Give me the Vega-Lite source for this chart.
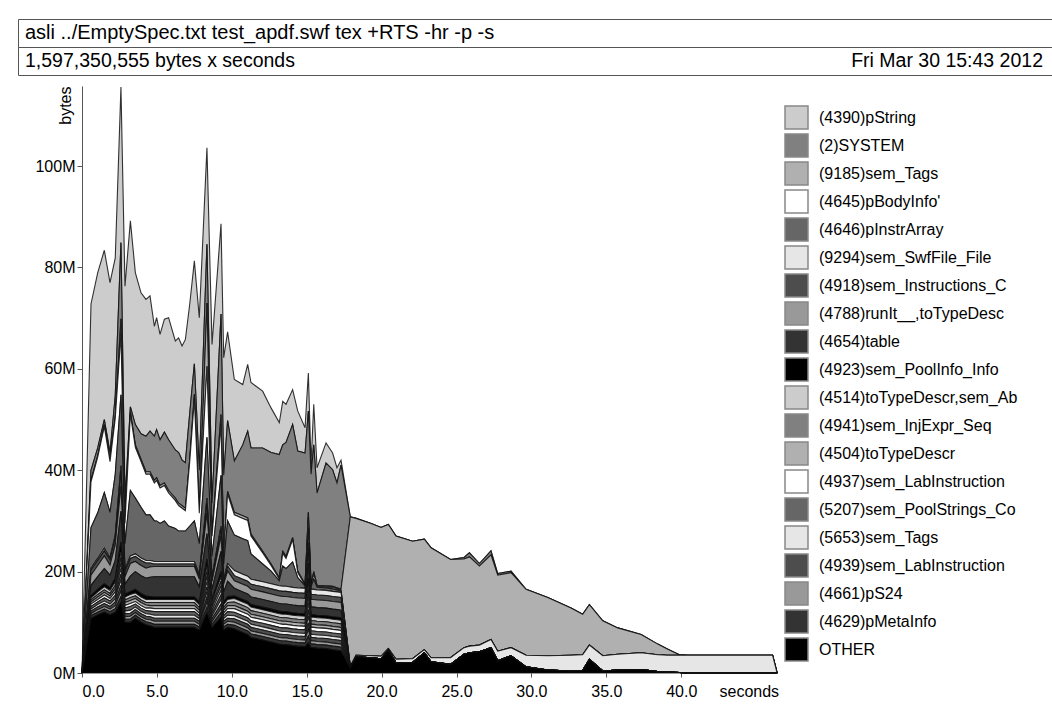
{
  "$schema": "https://vega.github.io/schema/vega-lite/v6.json",
  "padding": {"left": 17, "top": 18, "right": 0, "bottom": 0},
  "background": "white",
  "spacing": 0,
  "bounds": "flush",
  "config": {
    "font": "Liberation Sans",
    "view": {"stroke": "#555", "strokeWidth": 1},
    "axis": {"grid": false, "labelColor": "#000", "titleColor": "#000", "titleFontWeight": "normal", "domainColor": "#555", "tickColor": "#555", "labelFontSize": 16, "titleFontSize": 16},
    "legend": {"labelColor": "#000", "labelFontSize": 16}
  },
  "datasets": {
    "names": [
      {"key": "a", "name": "(4390)pString"},
      {"key": "b", "name": "(2)SYSTEM"},
      {"key": "c", "name": "(9185)sem_Tags"},
      {"key": "d", "name": "(4645)pBodyInfo'"},
      {"key": "e", "name": "(4646)pInstrArray"},
      {"key": "f", "name": "(9294)sem_SwfFile_File"},
      {"key": "g", "name": "(4918)sem_Instructions_C"},
      {"key": "h", "name": "(4788)runIt__,toTypeDesc"},
      {"key": "i", "name": "(4654)table"},
      {"key": "j", "name": "(4923)sem_PoolInfo_Info"},
      {"key": "k", "name": "(4514)toTypeDescr,sem_Ab"},
      {"key": "l", "name": "(4941)sem_InjExpr_Seq"},
      {"key": "m", "name": "(4504)toTypeDescr"},
      {"key": "n", "name": "(4937)sem_LabInstruction"},
      {"key": "o", "name": "(5207)sem_PoolStrings_Co"},
      {"key": "p", "name": "(5653)sem_Tags"},
      {"key": "q", "name": "(4939)sem_LabInstruction"},
      {"key": "r", "name": "(4661)pS24"},
      {"key": "s", "name": "(4629)pMetaInfo"},
      {"key": "t", "name": "OTHER"}
    ],
    "prof": [
      {"sec":0,"a":0,"b":0,"c":0,"d":0,"e":0,"f":0,"g":0,"h":0,"i":0,"j":0,"k":0,"l":0,"m":0,"n":0,"o":0,"p":0,"q":0,"r":0,"s":0,"t":0},
      {"sec":0.6,"a":32.8,"b":2,"c":0.3,"d":9,"e":8,"f":0.4,"g":1,"h":2,"i":2,"j":0.5,"k":0.4,"l":0.4,"m":0.4,"n":0.5,"o":0.5,"p":0.4,"q":0.5,"r":0.4,"s":0.5,"t":10.8},
      {"sec":1.05,"a":34.6,"b":1.5,"c":0.3,"d":11,"e":9,"f":0.4,"g":1,"h":2.2,"i":2.5,"j":0.5,"k":0.5,"l":0.5,"m":0.5,"n":0.5,"o":0.5,"p":0.5,"q":0.5,"r":0.5,"s":0.5,"t":11.5},
      {"sec":1.49,"a":33.4,"b":1,"c":0.4,"d":13,"e":11,"f":0.5,"g":1,"h":2.5,"i":3,"j":0.6,"k":0.6,"l":0.5,"m":0.5,"n":0.6,"o":0.6,"p":0.5,"q":0.6,"r":0.5,"s":0.6,"t":12},
      {"sec":1.87,"a":33.5,"b":1.5,"c":0.3,"d":10,"e":9,"f":0.4,"g":1,"h":2,"i":2.5,"j":0.5,"k":0.6,"l":0.5,"m":0.5,"n":0.5,"o":0.6,"p":0.5,"q":0.5,"r":0.5,"s":0.6,"t":11.5},
      {"sec":2.22,"a":27.2,"b":4,"c":0.5,"d":11,"e":12,"f":0.5,"g":1.5,"h":3,"i":3.5,"j":0.7,"k":0.7,"l":0.7,"m":0.6,"n":0.7,"o":0.7,"p":0.6,"q":0.7,"r":0.6,"s":0.7,"t":12},
      {"sec":2.6,"a":30.7,"b":15,"c":3,"d":12,"e":14,"f":1,"g":3,"h":5,"i":6,"j":2,"k":1.1,"l":1.1,"m":1.1,"n":1.1,"o":1.1,"p":1.1,"q":1.1,"r":1.1,"s":1.1,"t":14},
      {"sec":2.87,"a":42.3,"b":4,"c":0.5,"d":4,"e":5,"f":0.5,"g":1,"h":1.5,"i":2,"j":0.5,"k":0.6,"l":0.5,"m":0.6,"n":0.5,"o":0.6,"p":0.5,"q":0.6,"r":0.5,"s":0.6,"t":10},
      {"sec":3.23,"a":36.7,"b":1,"c":0.5,"d":15,"e":12.9,"f":0.5,"g":1,"h":2.5,"i":3,"j":0.6,"k":0.6,"l":0.6,"m":0.6,"n":0.6,"o":0.7,"p":0.6,"q":0.6,"r":0.6,"s":0.6,"t":10},
      {"sec":3.56,"a":30,"b":4,"c":0.5,"d":10,"e":11,"f":0.5,"g":1,"h":2,"i":3.5,"j":0.7,"k":0.6,"l":0.5,"m":0.6,"n":0.5,"o":0.6,"p":0.5,"q":0.6,"r":0.5,"s":0.6,"t":10.8},
      {"sec":3.94,"a":27.8,"b":5,"c":0.5,"d":9,"e":10,"f":0.5,"g":1,"h":2,"i":3.5,"j":0.7,"k":0.6,"l":0.5,"m":0.6,"n":0.5,"o":0.6,"p":0.5,"q":0.6,"r":0.5,"s":0.6,"t":10},
      {"sec":4.27,"a":27,"b":7,"c":0.5,"d":8,"e":9,"f":0.5,"g":1,"h":2,"i":3.5,"j":0.7,"k":0.6,"l":0.5,"m":0.6,"n":0.5,"o":0.6,"p":0.5,"q":0.6,"r":0.5,"s":0.6,"t":9.5},
      {"sec":4.54,"a":26.7,"b":8,"c":0.5,"d":8,"e":9,"f":0.5,"g":0.8,"h":2,"i":3.8,"j":0.6,"k":0.6,"l":0.6,"m":0.5,"n":0.6,"o":0.6,"p":0.5,"q":0.6,"r":0.6,"s":0.6,"t":9.3},
      {"sec":4.83,"a":21.7,"b":8.7,"c":0.5,"d":7.5,"e":8,"f":0.5,"g":0.5,"h":2,"i":4,"j":0.5,"k":0.6,"l":0.6,"m":0.6,"n":0.6,"o":0.7,"p":0.6,"q":0.6,"r":0.6,"s":0.6,"t":9},
      {"sec":4.98,"a":22.1,"b":9.5,"c":0.5,"d":8,"e":8,"f":0.5,"g":0.5,"h":2,"i":4,"j":0.5,"k":0.6,"l":0.6,"m":0.6,"n":0.6,"o":0.7,"p":0.6,"q":0.6,"r":0.6,"s":0.6,"t":9},
      {"sec":5.21,"a":20.8,"b":9,"c":0.5,"d":7,"e":7.5,"f":0.5,"g":0.5,"h":2,"i":4,"j":0.5,"k":0.6,"l":0.6,"m":0.6,"n":0.6,"o":0.7,"p":0.6,"q":0.6,"r":0.6,"s":0.6,"t":9},
      {"sec":5.5,"a":22.3,"b":10,"c":0.5,"d":7,"e":8,"f":0.5,"g":0.5,"h":2,"i":4,"j":0.5,"k":0.6,"l":0.6,"m":0.6,"n":0.6,"o":0.7,"p":0.6,"q":0.6,"r":0.6,"s":0.6,"t":9},
      {"sec":5.78,"a":24.1,"b":10,"c":0.5,"d":6.5,"e":7,"f":0.5,"g":0.5,"h":2,"i":4,"j":0.5,"k":0.6,"l":0.6,"m":0.6,"n":0.6,"o":0.7,"p":0.6,"q":0.6,"r":0.6,"s":0.6,"t":9},
      {"sec":6.23,"a":21.5,"b":9.5,"c":0.5,"d":5.5,"e":6.5,"f":0.5,"g":0.5,"h":2,"i":4,"j":0.5,"k":0.6,"l":0.6,"m":0.6,"n":0.6,"o":0.7,"p":0.6,"q":0.6,"r":0.6,"s":0.6,"t":9},
      {"sec":6.45,"a":22.6,"b":10,"c":0.5,"d":5,"e":6,"f":0.5,"g":0.5,"h":2,"i":4,"j":0.5,"k":0.6,"l":0.6,"m":0.6,"n":0.6,"o":0.7,"p":0.6,"q":0.6,"r":0.6,"s":0.6,"t":9},
      {"sec":6.68,"a":22.5,"b":9,"c":0.5,"d":4.5,"e":6,"f":0.5,"g":0.5,"h":2,"i":4,"j":0.5,"k":0.6,"l":0.6,"m":0.6,"n":0.6,"o":0.7,"p":0.6,"q":0.6,"r":0.6,"s":0.6,"t":9},
      {"sec":6.9,"a":24.3,"b":9,"c":0.5,"d":4,"e":6,"f":0.5,"g":0.5,"h":2,"i":4,"j":0.5,"k":0.6,"l":0.6,"m":0.6,"n":0.6,"o":0.7,"p":0.6,"q":0.6,"r":0.6,"s":0.6,"t":9},
      {"sec":7.2,"a":21.5,"b":9,"c":0.5,"d":13,"e":7,"f":0.5,"g":0.5,"h":2,"i":4,"j":0.5,"k":0.6,"l":0.6,"m":0.6,"n":0.6,"o":0.7,"p":0.6,"q":0.6,"r":0.6,"s":0.6,"t":9},
      {"sec":7.5,"a":20.3,"b":6,"c":1,"d":24,"e":8,"f":0.5,"g":0.5,"h":2,"i":4,"j":0.5,"k":0.6,"l":0.6,"m":0.6,"n":0.6,"o":0.7,"p":0.6,"q":0.6,"r":0.6,"s":0.6,"t":9},
      {"sec":7.83,"a":30.1,"b":8,"c":0.5,"d":6,"e":6,"f":0.5,"g":0.5,"h":1.5,"i":3,"j":0.5,"k":0.6,"l":0.5,"m":0.6,"n":0.5,"o":0.6,"p":0.5,"q":0.6,"r":0.5,"s":0.6,"t":8.5},
      {"sec":8.34,"a":19,"b":11.6,"c":12.5,"d":14,"e":12,"f":1,"g":2,"h":4,"i":5,"j":1.5,"k":1,"l":1,"m":1,"n":1,"o":1,"p":1,"q":1,"r":1,"s":1,"t":12},
      {"sec":8.68,"a":31.3,"b":6,"c":0.5,"d":4,"e":4,"f":0.5,"g":0.5,"h":1.5,"i":2,"j":0.5,"k":0.6,"l":0.5,"m":0.6,"n":0.5,"o":0.6,"p":0.5,"q":0.6,"r":0.5,"s":0.6,"t":9},
      {"sec":9.28,"a":17.8,"b":19.8,"c":2,"d":10,"e":10,"f":0.5,"g":1.5,"h":3,"i":4,"j":1,"k":0.9,"l":0.9,"m":0.9,"n":0.9,"o":0.9,"p":0.9,"q":0.9,"r":0.8,"s":0.9,"t":11},
      {"sec":9.46,"a":23.2,"b":15,"c":0.5,"d":2,"e":3,"f":0.5,"g":0.5,"h":1.5,"i":2,"j":0.5,"k":0.6,"l":0.5,"m":0.6,"n":0.5,"o":0.6,"p":0.5,"q":0.6,"r":0.5,"s":0.6,"t":8.5},
      {"sec":9.72,"a":17.5,"b":14,"c":0.5,"d":5.3,"e":8.4,"f":0.5,"g":1,"h":2,"i":3,"j":0.6,"k":0.6,"l":0.6,"m":0.6,"n":0.6,"o":0.7,"p":0.6,"q":0.6,"r":0.6,"s":0.6,"t":9},
      {"sec":10.17,"a":16.1,"b":10.1,"c":0.5,"d":4,"e":7,"f":1,"g":1,"h":1.5,"i":1.5,"j":0.5,"k":0.7,"l":0.7,"m":0.6,"n":0.7,"o":0.7,"p":0.6,"q":0.7,"r":0.6,"s":0.7,"t":8.7},
      {"sec":10.73,"a":11.9,"b":14,"c":0.5,"d":4,"e":7,"f":1,"g":1,"h":1.5,"i":1.5,"j":0.5,"k":0.7,"l":0.7,"m":0.6,"n":0.7,"o":0.7,"p":0.6,"q":0.7,"r":0.6,"s":0.7,"t":8},
      {"sec":11.06,"a":13.2,"b":17.1,"c":0.5,"d":4,"e":7,"f":1,"g":1,"h":1.5,"i":1.5,"j":0.5,"k":0.7,"l":0.7,"m":0.6,"n":0.7,"o":0.7,"p":0.6,"q":0.7,"r":0.6,"s":0.7,"t":7.6},
      {"sec":11.28,"a":12.9,"b":17,"c":0.4,"d":3.5,"e":5,"f":1,"g":1,"h":1.5,"i":1.5,"j":0.5,"k":0.7,"l":0.7,"m":0.6,"n":0.7,"o":0.7,"p":0.6,"q":0.7,"r":0.6,"s":0.7,"t":7},
      {"sec":12.06,"a":11.2,"b":20.4,"c":0.3,"d":2.2,"e":3.5,"f":1,"g":1,"h":1.5,"i":1.5,"j":0.5,"k":0.7,"l":0.7,"m":0.6,"n":0.7,"o":0.7,"p":0.6,"q":0.7,"r":0.6,"s":0.7,"t":6.5},
      {"sec":12.62,"a":8.8,"b":22,"c":0.3,"d":1.1,"e":2.5,"f":1,"g":1,"h":1.5,"i":1.5,"j":0.5,"k":0.7,"l":0.7,"m":0.6,"n":0.7,"o":0.7,"p":0.6,"q":0.7,"r":0.6,"s":0.7,"t":6.1},
      {"sec":13.17,"a":6.3,"b":24.3,"c":0.3,"d":0.3,"e":1,"f":1,"g":1,"h":1.5,"i":1.5,"j":0.5,"k":0.7,"l":0.7,"m":0.6,"n":0.7,"o":0.7,"p":0.6,"q":0.7,"r":0.6,"s":0.7,"t":5.7},
      {"sec":13.4,"a":8.6,"b":21,"c":0.4,"d":2.5,"e":4,"f":1,"g":1,"h":1.5,"i":1.5,"j":0.5,"k":0.7,"l":0.7,"m":0.6,"n":0.7,"o":0.7,"p":0.6,"q":0.7,"r":0.6,"s":0.7,"t":5.6},
      {"sec":13.62,"a":7.5,"b":22.5,"c":0.4,"d":2,"e":3.5,"f":1,"g":1,"h":1.5,"i":1.5,"j":0.5,"k":0.7,"l":0.7,"m":0.6,"n":0.7,"o":0.7,"p":0.6,"q":0.7,"r":0.6,"s":0.7,"t":5.6},
      {"sec":14.06,"a":6.9,"b":22.3,"c":0.4,"d":4.4,"e":5,"f":1,"g":1,"h":1.5,"i":1.5,"j":0.5,"k":0.7,"l":0.7,"m":0.6,"n":0.7,"o":0.7,"p":0.6,"q":0.7,"r":0.6,"s":0.7,"t":5.4},
      {"sec":14.4,"a":7.9,"b":23.7,"c":0.3,"d":1,"e":2,"f":1,"g":1,"h":1.5,"i":1.5,"j":0.5,"k":0.7,"l":0.7,"m":0.6,"n":0.7,"o":0.7,"p":0.6,"q":0.7,"r":0.6,"s":0.7,"t":5.3},
      {"sec":14.89,"a":5,"b":25.9,"c":0.2,"d":0.1,"e":0.5,"f":1,"g":1,"h":1.5,"i":1.5,"j":0.5,"k":0.7,"l":0.7,"m":0.6,"n":0.7,"o":0.7,"p":0.6,"q":0.7,"r":0.6,"s":0.7,"t":5.2},
      {"sec":15.11,"a":7.5,"b":20,"c":1,"d":2,"e":3,"f":1,"g":1,"h":2,"i":3,"j":1,"k":1.3,"l":1.3,"m":1.3,"n":1.3,"o":1.3,"p":1.3,"q":1.3,"r":1.3,"s":1.3,"t":6},
      {"sec":15.29,"a":2,"b":21.8,"c":0.2,"d":0.2,"e":0.5,"f":1,"g":1,"h":1.5,"i":1.5,"j":0.5,"k":0.7,"l":0.7,"m":0.6,"n":0.7,"o":0.7,"p":0.6,"q":0.7,"r":0.6,"s":0.7,"t":5},
      {"sec":15.47,"a":8,"b":25,"c":0.5,"d":1,"e":2,"f":1,"g":1,"h":1.5,"i":1.5,"j":0.5,"k":0.7,"l":0.7,"m":0.6,"n":0.7,"o":0.7,"p":0.6,"q":0.7,"r":0.6,"s":0.7,"t":5},
      {"sec":15.69,"a":5,"b":18.2,"c":0.2,"d":0.2,"e":0.5,"f":1,"g":1,"h":1.5,"i":1.5,"j":0.5,"k":0.7,"l":0.7,"m":0.6,"n":0.7,"o":0.7,"p":0.6,"q":0.7,"r":0.6,"s":0.7,"t":4.9},
      {"sec":16.29,"a":4,"b":24.2,"c":0.2,"d":0.2,"e":0.5,"f":1,"g":1,"h":1.5,"i":1.5,"j":0.5,"k":0.7,"l":0.7,"m":0.6,"n":0.7,"o":0.7,"p":0.6,"q":0.7,"r":0.6,"s":0.7,"t":4.8},
      {"sec":16.73,"a":3.3,"b":23,"c":0.2,"d":0.3,"e":0.5,"f":1,"g":1,"h":1.5,"i":1.5,"j":0.5,"k":0.7,"l":0.7,"m":0.6,"n":0.7,"o":0.7,"p":0.6,"q":0.7,"r":0.6,"s":0.7,"t":4.6},
      {"sec":17.02,"a":3,"b":20.7,"c":0.2,"d":0.2,"e":0.4,"f":1,"g":1,"h":1.5,"i":1.5,"j":0.5,"k":0.7,"l":0.7,"m":0.6,"n":0.7,"o":0.7,"p":0.6,"q":0.7,"r":0.6,"s":0.7,"t":4.5},
      {"sec":17.29,"a":1,"b":24.5,"c":0.2,"d":0.1,"e":0.3,"f":1,"g":1,"h":1.5,"i":1.5,"j":0.5,"k":0.7,"l":0.7,"m":0.6,"n":0.7,"o":0.7,"p":0.6,"q":0.7,"r":0.6,"s":0.7,"t":4.4},
      {"sec":17.91,"a":0,"b":0,"c":29.5,"d":0,"e":0,"f":0.3,"g":0,"h":0,"i":0,"j":0,"k":0,"l":0,"m":0,"n":0,"o":0,"p":0,"q":0,"r":0,"s":0,"t":1},
      {"sec":18.3,"a":0,"b":0,"c":27,"d":0,"e":0,"f":0.3,"g":0,"h":0,"i":0,"j":0,"k":0,"l":0,"m":0,"n":0,"o":0,"p":0,"q":0,"r":0,"s":0,"t":3.2},
      {"sec":19.3,"a":0,"b":0,"c":26.1,"d":0,"e":0,"f":0.4,"g":0,"h":0,"i":0,"j":0,"k":0,"l":0,"m":0,"n":0,"o":0,"p":0,"q":0,"r":0,"s":0,"t":3},
      {"sec":19.96,"a":0,"b":0,"c":25.4,"d":0,"e":0,"f":0.5,"g":0,"h":0,"i":0,"j":0,"k":0,"l":0,"m":0,"n":0,"o":0,"p":0,"q":0,"r":0,"s":0,"t":2.8},
      {"sec":20.45,"a":0,"b":0,"c":24.5,"d":0,"e":0,"f":0.3,"g":0,"h":0,"i":0,"j":0,"k":0,"l":0,"m":0,"n":0,"o":0,"p":0,"q":0,"r":0,"s":0,"t":4.5},
      {"sec":20.96,"a":0,"b":0,"c":24.3,"d":0,"e":0,"f":0.7,"g":0,"h":0,"i":0,"j":0,"k":0,"l":0,"m":0,"n":0,"o":0,"p":0,"q":0,"r":0,"s":0,"t":2},
      {"sec":22.07,"a":0,"b":0,"c":23.2,"d":0,"e":0,"f":0.7,"g":0,"h":0,"i":0,"j":0,"k":0,"l":0,"m":0,"n":0,"o":0,"p":0,"q":0,"r":0,"s":0,"t":2.1},
      {"sec":22.85,"a":0,"b":0,"c":21.8,"d":0,"e":0,"f":0.6,"g":0,"h":0,"i":0,"j":0,"k":0,"l":0,"m":0,"n":0,"o":0,"p":0,"q":0,"r":0,"s":0,"t":4},
      {"sec":23.3,"a":0,"b":0,"c":21.7,"d":0,"e":0,"f":0.8,"g":0,"h":0,"i":0,"j":0,"k":0,"l":0,"m":0,"n":0,"o":0,"p":0,"q":0,"r":0,"s":0,"t":2.2},
      {"sec":24.6,"a":0,"b":0,"c":19.4,"d":0,"e":0,"f":1.3,"g":0,"h":0,"i":0,"j":0,"k":0,"l":0,"m":0,"n":0,"o":0,"p":0,"q":0,"r":0,"s":0,"t":1.7},
      {"sec":25.5,"a":0,"b":0.3,"c":17.5,"d":0,"e":0,"f":1.3,"g":0,"h":0,"i":0,"j":0,"k":0,"l":0,"m":0,"n":0,"o":0,"p":0,"q":0,"r":0,"s":0,"t":3.7},
      {"sec":25.86,"a":0,"b":0.8,"c":17.6,"d":0,"e":0,"f":1.3,"g":0,"h":0,"i":0,"j":0,"k":0,"l":0,"m":0,"n":0,"o":0,"p":0,"q":0,"r":0,"s":0,"t":4},
      {"sec":26.53,"a":0,"b":0.5,"c":15.6,"d":0,"e":0,"f":1.3,"g":0,"h":0,"i":0,"j":0,"k":0,"l":0,"m":0,"n":0,"o":0,"p":0,"q":0,"r":0,"s":0,"t":4.2},
      {"sec":27.3,"a":0,"b":0.8,"c":16.7,"d":0,"e":0,"f":1.6,"g":0,"h":0,"i":0,"j":0,"k":0,"l":0,"m":0,"n":0,"o":0,"p":0,"q":0,"r":0,"s":0,"t":5},
      {"sec":27.75,"a":0,"b":0.3,"c":15,"d":0,"e":0,"f":1.9,"g":0,"h":0,"i":0,"j":0,"k":0,"l":0,"m":0,"n":0,"o":0,"p":0,"q":0,"r":0,"s":0,"t":2.4},
      {"sec":28.64,"a":0,"b":0.3,"c":14.8,"d":0,"e":0,"f":1.6,"g":0,"h":0,"i":0,"j":0,"k":0,"l":0,"m":0,"n":0,"o":0,"p":0,"q":0,"r":0,"s":0,"t":3.4},
      {"sec":29.64,"a":0,"b":0,"c":13,"d":0,"e":0,"f":2.3,"g":0,"h":0,"i":0,"j":0,"k":0,"l":0,"m":0,"n":0,"o":0,"p":0,"q":0,"r":0,"s":0,"t":1.2},
      {"sec":31.09,"a":0,"b":0,"c":11.5,"d":0,"e":0,"f":2.8,"g":0,"h":0,"i":0,"j":0,"k":0,"l":0,"m":0,"n":0,"o":0,"p":0,"q":0,"r":0,"s":0,"t":0.6},
      {"sec":32.64,"a":0,"b":0,"c":9.3,"d":0,"e":0,"f":3.1,"g":0,"h":0,"i":0,"j":0,"k":0,"l":0,"m":0,"n":0,"o":0,"p":0,"q":0,"r":0,"s":0,"t":0.4},
      {"sec":33.42,"a":0,"b":0,"c":8,"d":0,"e":0,"f":3.1,"g":0,"h":0,"i":0,"j":0,"k":0,"l":0,"m":0,"n":0,"o":0,"p":0,"q":0,"r":0,"s":0,"t":0.5},
      {"sec":33.87,"a":0,"b":0,"c":8,"d":0,"e":0,"f":2.8,"g":0,"h":0,"i":0,"j":0,"k":0,"l":0,"m":0,"n":0,"o":0,"p":0,"q":0,"r":0,"s":0,"t":2.7},
      {"sec":34.76,"a":0,"b":0,"c":6.9,"d":0,"e":0,"f":3,"g":0,"h":0,"i":0,"j":0,"k":0,"l":0,"m":0,"n":0,"o":0,"p":0,"q":0,"r":0,"s":0,"t":0.4},
      {"sec":35.76,"a":0,"b":0,"c":5.2,"d":0,"e":0,"f":3.1,"g":0,"h":0,"i":0,"j":0,"k":0,"l":0,"m":0,"n":0,"o":0,"p":0,"q":0,"r":0,"s":0,"t":0.6},
      {"sec":37.32,"a":0,"b":0,"c":3.6,"d":0,"e":0,"f":3.3,"g":0,"h":0,"i":0,"j":0,"k":0,"l":0,"m":0,"n":0,"o":0,"p":0,"q":0,"r":0,"s":0,"t":0.7},
      {"sec":38.43,"a":0,"b":0,"c":2.1,"d":0,"e":0,"f":3.3,"g":0,"h":0,"i":0,"j":0,"k":0,"l":0,"m":0,"n":0,"o":0,"p":0,"q":0,"r":0,"s":0,"t":0.3},
      {"sec":39.1,"a":0,"b":0,"c":1.2,"d":0,"e":0,"f":3.3,"g":0,"h":0,"i":0,"j":0,"k":0,"l":0,"m":0,"n":0,"o":0,"p":0,"q":0,"r":0,"s":0,"t":0.2},
      {"sec":39.87,"a":0,"b":0,"c":0.1,"d":0,"e":0,"f":3.4,"g":0,"h":0,"i":0,"j":0,"k":0,"l":0,"m":0,"n":0,"o":0,"p":0,"q":0,"r":0,"s":0,"t":0.1},
      {"sec":40.4,"a":0,"b":0,"c":0,"d":0,"e":0,"f":3.5,"g":0,"h":0,"i":0,"j":0,"k":0,"l":0,"m":0,"n":0,"o":0,"p":0,"q":0,"r":0,"s":0,"t":0},
      {"sec":46.1,"a":0,"b":0,"c":0,"d":0,"e":0,"f":3.5,"g":0,"h":0,"i":0,"j":0,"k":0,"l":0,"m":0,"n":0,"o":0,"p":0,"q":0,"r":0,"s":0,"t":0},
      {"sec":46.4,"a":0,"b":0,"c":0,"d":0,"e":0,"f":0,"g":0,"h":0,"i":0,"j":0,"k":0,"l":0,"m":0,"n":0,"o":0,"p":0,"q":0,"r":0,"s":0,"t":0}
    ]
  },
  "vconcat": [
    {
      "width": 1035,
      "height": 28,
      "data": {"values": [{"pos": 0, "label": "asli ../EmptySpec.txt test_apdf.swf tex +RTS -hr -p -s"}]},
      "mark": {"type": "text", "align": "left", "baseline": "middle", "fontSize": 20, "color": "#000"},
      "encoding": {
        "x": {"field": "pos", "type": "quantitative", "scale": {"domain": [0, 1], "range": [7, 1025]}, "axis": null},
        "text": {"field": "label"}
      }
    },
    {
      "width": 1035,
      "height": 28,
      "data": {"values": [{"pos": 0, "label": "1,597,350,555 bytes x seconds"}, {"pos": 1, "label": "Fri Mar 30 15:43 2012"}]},
      "encoding": {
        "x": {"field": "pos", "type": "quantitative", "scale": {"domain": [0, 1], "range": [7, 1025]}, "axis": null},
        "text": {"field": "label"}
      },
      "layer": [
        {"transform": [{"filter": "datum.pos == 0"}], "mark": {"type": "text", "align": "left", "baseline": "middle", "fontSize": 19.5, "color": "#000"}},
        {"transform": [{"filter": "datum.pos == 1"}], "mark": {"type": "text", "align": "right", "baseline": "middle", "fontSize": 19.5, "color": "#000"}}
      ]
    },
    {
      "width": 1035,
      "height": 598,
      "view": {"stroke": null},
      "data": {"name": "prof"},
      "transform": [
        {"fold": ["a","b","c","d","e","f","g","h","i","j","k","l","m","n","o","p","q","r","s","t"], "as": ["key", "v"]},
        {"lookup": "key", "from": {"data": {"name": "names"}, "key": "key", "fields": ["name"]}}
      ],
      "mark": {"type": "area", "interpolate": "linear", "stroke": "#111", "strokeWidth": 1.1, "strokeOpacity": 0.85},
      "encoding": {
        "x": {
          "field": "sec", "type": "quantitative",
          "scale": {"domain": [0, 46.5], "range": [64, 760.6], "nice": false, "zero": false},
          "axis": {"values": [0, 5, 10, 15, 20, 25, 30, 35, 40], "format": ".1f", "domain": false, "tickSize": 4, "labelPadding": 6, "title": "seconds", "titleAnchor": "end", "titleBaseline": "top", "titleY": 10}
        },
        "y": {
          "field": "v", "type": "quantitative", "stack": "zero",
          "scale": {"domain": [0, 115.8], "range": [598, 11], "nice": false},
          "axis": {"values": [0, 20, 40, 60, 80, 100], "labelExpr": "datum.value + 'M'", "offset": -64, "tickSize": 5, "labelPadding": 2, "title": "bytes", "titleAnchor": "end", "titleX": -9}
        },
        "color": {
          "field": "name", "type": "nominal",
          "scale": {
            "domain": ["(4390)pString","(2)SYSTEM","(9185)sem_Tags","(4645)pBodyInfo'","(4646)pInstrArray","(9294)sem_SwfFile_File","(4918)sem_Instructions_C","(4788)runIt__,toTypeDesc","(4654)table","(4923)sem_PoolInfo_Info","(4514)toTypeDescr,sem_Ab","(4941)sem_InjExpr_Seq","(4504)toTypeDescr","(4937)sem_LabInstruction","(5207)sem_PoolStrings_Co","(5653)sem_Tags","(4939)sem_LabInstruction","(4661)pS24","(4629)pMetaInfo","OTHER"],
            "range": ["#cccccc","#808080","#b0b0b0","#ffffff","#666666","#e6e6e6","#4d4d4d","#999999","#333333","#000000","#cccccc","#808080","#b0b0b0","#ffffff","#666666","#e6e6e6","#4d4d4d","#999999","#333333","#000000"]
          },
          "legend": {"orient": "none", "legendX": 766, "legendY": 86, "title": null, "padding": 0, "symbolType": "square", "symbolSize": 529, "symbolStrokeColor": "#888", "symbolStrokeWidth": 1.5, "symbolOpacity": 1, "labelFontSize": 16, "labelOffset": 10, "rowPadding": -1, "labelLimit": 400}
        },
        "order": {"field": "key", "sort": "descending"}
      }
    }
  ]
}
